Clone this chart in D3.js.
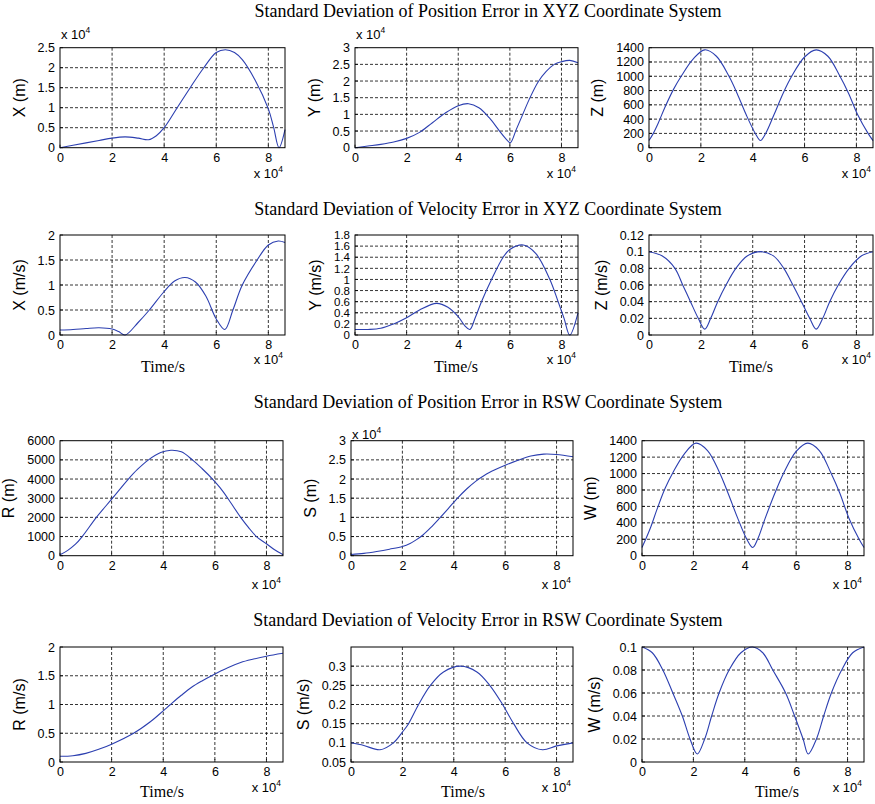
<!DOCTYPE html>
<html><head><meta charset="utf-8">
<script src="https://cdn.jsdelivr.net/npm/d3@7"></script>
<style>body{margin:0;background:#fff} svg{display:block}</style>
</head><body>
<svg id="chart" width="875" height="804"></svg>
<script>
// ---------------- DATA ----------------
// time in units of 10^4 s
const timeTicks = [0, 2, 4, 6, 8];
const timeTickLabels = ["0", "2", "4", "6", "8"];
const timeMax = 8.64;

const rowTitles = [
  "Standard Deviation of Position Error in XYZ Coordinate System",
  "Standard Deviation of Velocity Error in XYZ Coordinate System",
  "Standard Deviation of Position Error in RSW Coordinate System",
  "Standard Deviation of Velocity Error in RSW Coordinate System"
];

// Position XYZ (X, Y in units of 10^4 m; Z in m)
const posX = [[0,0],[0.5,0.06],[1,0.12],[1.5,0.18],[2,0.24],[2.5,0.27],[3,0.24],[3.4,0.2],[3.7,0.3],[4,0.5],[4.5,1.0],[5,1.5],[5.5,1.98],[6,2.38],[6.35,2.45],[6.7,2.38],[7,2.2],[7.5,1.68],[8,0.97],[8.2,0.52],[8.41,0.0],[8.64,0.45]];
const posY = [[0,0],[0.5,0.05],[1,0.1],[1.5,0.17],[2,0.28],[2.5,0.46],[3,0.75],[3.5,1.04],[4,1.26],[4.4,1.32],[4.8,1.2],[5.2,0.9],[5.6,0.5],[5.9,0.22],[6.02,0.15],[6.25,0.55],[6.5,1.0],[6.75,1.45],[7.1,1.98],[7.4,2.28],[7.72,2.5],[8.0,2.58],[8.32,2.62],[8.64,2.55]];
const posZ = [[0,100],[0.15,190],[0.35,340],[0.62,570],[0.95,820],[1.26,1010],[1.7,1240],[2.15,1370],[2.6,1280],[3.07,1010],[3.4,760],[3.75,460],[4.1,200],[4.3,100],[4.5,200],[4.82,460],[5.17,760],[5.52,1010],[6.0,1270],[6.45,1370],[6.9,1280],[7.35,1010],[7.7,760],[8.05,460],[8.45,200],[8.64,100]];
// Velocity XYZ (m/s)
const velX = [[0,0.1],[0.5,0.11],[1,0.13],[1.5,0.145],[2,0.12],[2.25,0.07],[2.5,0.0],[3,0.25],[3.43,0.5],[4,0.87],[4.4,1.08],[4.8,1.15],[5.2,1.06],[5.6,0.78],[6,0.32],[6.33,0.11],[6.64,0.5],[7.0,1.0],[7.57,1.5],[8,1.8],[8.38,1.88],[8.64,1.85]];
const velY = [[0,0.1],[0.5,0.1],[1,0.12],[1.5,0.2],[2,0.31],[2.5,0.45],[3.16,0.57],[3.6,0.5],[4,0.33],[4.25,0.17],[4.45,0.1],[4.65,0.3],[4.9,0.6],[5.29,1.0],[5.74,1.4],[6,1.54],[6.52,1.62],[7,1.47],[7.55,1.0],[7.87,0.6],[8.1,0.3],[8.32,0.0],[8.64,0.4]];
const velZ = [[0,0.1],[0.5,0.095],[1.0,0.08],[1.3,0.06],[1.6,0.04],[1.9,0.02],[2.15,0.007],[2.38,0.02],[2.65,0.04],[2.97,0.06],[3.35,0.08],[3.8,0.095],[4.3,0.1],[4.8,0.095],[5.2,0.08],[5.55,0.06],[5.88,0.04],[6.2,0.02],[6.45,0.007],[6.7,0.02],[6.97,0.04],[7.3,0.06],[7.72,0.08],[8.2,0.095],[8.64,0.1]];
// Position RSW (R, W in m; S in units of 10^4 m)
const posR = [[0,50],[0.3,280],[0.6,600],[0.86,1000],[1.41,2000],[2.0,2950],[2.65,4000],[3.0,4500],[3.43,5000],[3.9,5380],[4.3,5500],[4.7,5420],[5.13,5000],[5.5,4550],[5.91,4000],[6.2,3550],[6.5,3000],[7.0,2000],[7.3,1480],[7.61,1000],[8,620],[8.3,320],[8.64,50]];
const posS = [[0,0.03],[0.5,0.06],[1,0.11],[1.5,0.17],[2,0.24],[2.3,0.32],[2.55,0.42],[2.8,0.54],[3.1,0.73],[3.45,0.98],[3.8,1.24],[4.13,1.49],[4.5,1.74],[4.85,1.94],[5.2,2.1],[5.6,2.24],[6,2.36],[6.5,2.49],[7,2.6],[7.5,2.65],[8,2.64],[8.64,2.58]];
const posW = [[0,100],[0.13,190],[0.33,340],[0.59,570],[0.9,820],[1.2,1010],[1.65,1240],[2.1,1370],[2.55,1280],[3.02,1010],[3.35,760],[3.72,460],[4.08,200],[4.31,100],[4.5,200],[4.8,460],[5.17,760],[5.52,1010],[6.0,1270],[6.45,1370],[6.9,1280],[7.35,1010],[7.7,760],[8.05,460],[8.45,200],[8.64,100]];
// Velocity RSW (m/s)
const velR = [[0,0.1],[0.5,0.11],[1,0.15],[1.5,0.22],[2,0.31],[2.85,0.5],[3.5,0.7],[4,0.89],[4.28,1.0],[4.7,1.16],[5.1,1.3],[5.5,1.41],[5.91,1.51],[6.5,1.64],[7,1.73],[7.5,1.79],[8,1.84],[8.64,1.89]];
const velS = [[0,0.1],[0.5,0.093],[1.13,0.082],[1.65,0.1],[2,0.128],[2.24,0.15],[2.63,0.2],[3.09,0.25],[3.6,0.285],[4.26,0.3],[4.9,0.285],[5.4,0.25],[5.9,0.2],[6.33,0.15],[6.85,0.1],[7.45,0.082],[8,0.092],[8.64,0.1]];
const velW = [[0,0.1],[0.4,0.095],[0.81,0.08],[1.2,0.06],[1.57,0.04],[1.87,0.02],[2.15,0.007],[2.44,0.02],[2.71,0.04],[3.0,0.06],[3.39,0.08],[3.85,0.095],[4.3,0.1],[4.7,0.095],[5.09,0.08],[5.59,0.06],[5.94,0.04],[6.27,0.02],[6.47,0.007],[6.79,0.02],[7.07,0.04],[7.37,0.06],[7.77,0.08],[8.2,0.095],[8.64,0.1]];

// y tick values and labels
const ticksPosX = [0,0.5,1,1.5,2,2.5];      const labelsPosX = ["0","0.5","1","1.5","2","2.5"];
const ticksPosY = [0,0.5,1,1.5,2,2.5,3];    const labelsPosY = ["0","0.5","1","1.5","2","2.5","3"];
const ticksPosZ = [0,200,400,600,800,1000,1200,1400]; const labelsPosZ = ["0","200","400","600","800","1000","1200","1400"];
const ticksVelX = [0,0.5,1,1.5,2];          const labelsVelX = ["0","0.5","1","1.5","2"];
const ticksVelY = [0,0.2,0.4,0.6,0.8,1,1.2,1.4,1.6,1.8]; const labelsVelY = ["0","0.2","0.4","0.6","0.8","1","1.2","1.4","1.6","1.8"];
const ticksVelZ = [0,0.02,0.04,0.06,0.08,0.1,0.12]; const labelsVelZ = ["0","0.02","0.04","0.06","0.08","0.1","0.12"];
const ticksPosR = [0,1000,2000,3000,4000,5000,6000]; const labelsPosR = ["0","1000","2000","3000","4000","5000","6000"];
const ticksPosS = [0,0.5,1,1.5,2,2.5,3];    const labelsPosS = ["0","0.5","1","1.5","2","2.5","3"];
const ticksPosW = [0,200,400,600,800,1000,1200,1400]; const labelsPosW = ["0","200","400","600","800","1000","1200","1400"];
const ticksVelR = [0,0.5,1,1.5,2];          const labelsVelR = ["0","0.5","1","1.5","2"];
const ticksVelS = [0.05,0.1,0.15,0.2,0.25,0.3]; const labelsVelS = ["0.05","0.1","0.15","0.2","0.25","0.3"];
const ticksVelW = [0,0.02,0.04,0.06,0.08,0.1]; const labelsVelW = ["0","0.02","0.04","0.06","0.08","0.1"];

// ---------------- LAYOUT ----------------
const svg = d3.select("#chart");
const SANS = "'Liberation Sans', Arial, Helvetica, sans-serif";
const SERIF = "'Liberation Serif', 'Times New Roman', Times, serif";
const LINE_COLOR = "#2c3fb0";

const rowTop = [47.7, 235, 440.7, 647];
const rowH = [100, 100, 115, 115];
const colLeft = [[60, 355, 649], [60, 355, 649], [60, 351, 642], [60, 351, 642]];
const colW = [[225, 223, 224], [225, 223, 224], [223, 222, 222], [223, 222, 222]];
const titleY = [17, 215, 408, 626];
const expBottomY = [178, 364, 589, 792];
const timeLabelX = [[163, 456, 751], [162, 463, 777]];
const timeLabelY = [372, 797];

const panels = [
  {r:0,c:0,data:posX,ticks:ticksPosX,labels:labelsPosX,dom:[0,2.5],ylab:"X (m)",expTop:9},
  {r:0,c:1,data:posY,ticks:ticksPosY,labels:labelsPosY,dom:[0,3],ylab:"Y (m)",expTop:9},
  {r:0,c:2,data:posZ,ticks:ticksPosZ,labels:labelsPosZ,dom:[0,1400],ylab:"Z (m)"},
  {r:1,c:0,data:velX,ticks:ticksVelX,labels:labelsVelX,dom:[0,2],ylab:"X (m/s)"},
  {r:1,c:1,data:velY,ticks:ticksVelY,labels:labelsVelY,dom:[0,1.8],ylab:"Y (m/s)",fs:11.5},
  {r:1,c:2,data:velZ,ticks:ticksVelZ,labels:labelsVelZ,dom:[0,0.12],ylab:"Z (m/s)"},
  {r:2,c:0,data:posR,ticks:ticksPosR,labels:labelsPosR,dom:[0,6000],ylab:"R (m)"},
  {r:2,c:1,data:posS,ticks:ticksPosS,labels:labelsPosS,dom:[0,3],ylab:"S (m)",expTop:2},
  {r:2,c:2,data:posW,ticks:ticksPosW,labels:labelsPosW,dom:[0,1400],ylab:"W (m)"},
  {r:3,c:0,data:velR,ticks:ticksVelR,labels:labelsVelR,dom:[0,2],ylab:"R (m/s)"},
  {r:3,c:1,data:velS,ticks:ticksVelS,labels:labelsVelS,dom:[0.05,0.35],ylab:"S (m/s)"},
  {r:3,c:2,data:velW,ticks:ticksVelW,labels:labelsVelW,dom:[0,0.1],ylab:"W (m/s)"}
];

// titles
rowTitles.forEach((t, i) => {
  svg.append("text").attr("x", 488).attr("y", titleY[i]).attr("text-anchor", "middle")
    .attr("font-family", SERIF).attr("font-size", 18).attr("fill", "#000").text(t);
});

function expLabel(g, x, y, anchorEnd) {
  const t = g.append("text").attr("y", y).attr("font-family", SANS).attr("font-size", 13).attr("fill", "#000");
  t.append("tspan").text("x 10");
  t.append("tspan").attr("font-size", 8.5).attr("dy", -6).text("4");
  if (anchorEnd) t.attr("x", x).attr("text-anchor", "end"); else t.attr("x", x);
}

panels.forEach((p, i) => {
  const left = colLeft[p.r][p.c], top = rowTop[p.r], w = colW[p.r][p.c], h = rowH[p.r];
  const g = svg.append("g").attr("transform", `translate(${left},${top})`);
  const x = d3.scaleLinear().domain([0, timeMax]).range([0, w]);
  const y = d3.scaleLinear().domain(p.dom).range([h, 0]);

  // grid
  const grid = g.append("g").attr("stroke", "#000").attr("stroke-width", 0.8).attr("stroke-dasharray", "3,2");
  grid.selectAll(".gx").data(timeTicks.filter(t => t > 0 && t < timeMax)).join("line")
    .attr("x1", d => x(d)).attr("x2", d => x(d)).attr("y1", 0).attr("y2", h);
  grid.selectAll(".gy").data(p.ticks.filter(v => v > p.dom[0] && v < p.dom[1])).join("line")
    .attr("x1", 0).attr("x2", w).attr("y1", d => y(d)).attr("y2", d => y(d));

  // axes (labels only; frame drawn separately)
  const fs = p.fs || 12.5;
  const ya = d3.axisLeft(y).tickValues(p.ticks).tickFormat((d, k) => p.labels[k]).tickSize(0).tickPadding(5);
  const yg = g.append("g").call(ya);
  yg.select(".domain").remove();
  yg.selectAll("text").attr("font-family", SANS).attr("font-size", fs).attr("fill", "#000");
  const xa = d3.axisBottom(x).tickValues(timeTicks).tickFormat((d, k) => timeTickLabels[k]).tickSize(0).tickPadding(5);
  const xg = g.append("g").attr("transform", `translate(0,${h})`).call(xa);
  xg.select(".domain").remove();
  xg.selectAll("text").attr("font-family", SANS).attr("font-size", 12.5).attr("fill", "#000");

  // small inward ticks
  const tk = g.append("g").attr("stroke", "#000").attr("stroke-width", 0.8);
  tk.selectAll(".tx").data(timeTicks).join("line").attr("x1", d => x(d)).attr("x2", d => x(d)).attr("y1", h).attr("y2", h - 3);
  tk.selectAll(".ty").data(p.ticks).join("line").attr("x1", 0).attr("x2", 3).attr("y1", d => y(d)).attr("y2", d => y(d));

  // curve
  g.append("path").datum(p.data)
    .attr("d", d3.line().x(d => x(d[0])).y(d => y(d[1])).curve(d3.curveCatmullRom.alpha(0.5)))
    .attr("fill", "none").attr("stroke", LINE_COLOR).attr("stroke-width", 1.1);

  // frame
  g.append("rect").attr("width", w).attr("height", h).attr("fill", "none").attr("stroke", "#000").attr("stroke-width", 1);

  // y label
  let maxW = 0;
  yg.selectAll("text").each(function () { maxW = Math.max(maxW, this.getComputedTextLength()); });
  g.append("text").attr("transform", `translate(${-maxW - 5 - 13},${h / 2}) rotate(-90)`)
    .attr("text-anchor", "middle").attr("font-family", SANS).attr("font-size", 16).attr("fill", "#000").text(p.ylab);

  // exponent labels
  expLabel(svg, left + w - 2, expBottomY[p.r], true);
  if (p.expTop !== undefined) expLabel(svg, left + 1, top - p.expTop, false);

  // time label
  if (p.r === 1 || p.r === 3) {
    const k = p.r === 1 ? 0 : 1;
    svg.append("text").attr("x", timeLabelX[k][p.c]).attr("y", timeLabelY[k]).attr("text-anchor", "middle")
      .attr("font-family", SERIF).attr("font-size", 16).attr("fill", "#000").text("Time/s");
  }
});
</script>
</body></html>
